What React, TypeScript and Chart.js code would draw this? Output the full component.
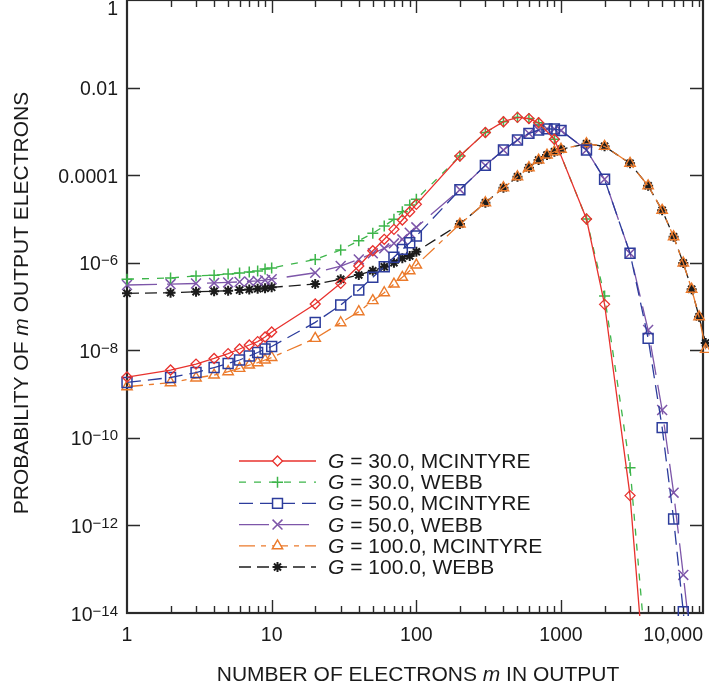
import { useEffect, useRef } from 'react';
import { Chart, registerables } from 'chart.js';

Chart.register(...registerables);

// ---- data ----
const xLow = [1, 2, 3, 4, 5, 6, 7, 8, 9, 10, 20, 30, 40, 50, 60, 70, 80, 90, 100];
const xG30 = [...xLow, 200, 300, 400, 500, 600, 700, 900, 1500, 2000, 3000, 4000];
const xG50 = [...xLow, 200, 300, 400, 500, 600, 700, 800, 900, 1000, 1500, 2000, 3000, 4000, 5000, 6000, 7000, 8000];
const xG100 = [...xLow, 200, 300, 400, 500, 600, 700, 800, 900, 1000, 1500, 2000, 3000, 4000, 5000, 6000, 7000, 8000, 9000, 10000];

const g30Mcintyre = [
  2.45e-9, 3.54e-9, 4.85e-9, 6.5e-9, 8.4e-9, 1.07e-8, 1.32e-8, 1.58e-8, 2.01e-8, 2.61e-8,
  1.14e-7, 3.38e-7, 8.4e-7, 1.88e-6, 3.42e-6, 5.78e-6, 9.44e-6, 1.46e-5, 2.15e-5,
  2.73e-4, 9.4e-4, 1.66e-3, 2.09e-3, 1.96e-3, 1.57e-3, 6.6e-4, 9.96e-6, 1.12e-7, 4.8e-12, 3.6e-17,
];
const g30Webb = [
  4.2e-7, 4.5e-7, 5.0e-7, 5.2e-7, 5.5e-7, 5.8e-7, 6.1e-7, 6.5e-7, 7.2e-7, 7.6e-7,
  1.19e-6, 1.95e-6, 3.18e-6, 4.69e-6, 6.89e-6, 9.8e-6, 1.46e-5, 2.07e-5, 2.8e-5,
  2.73e-4, 9.4e-4, 1.66e-3, 2.09e-3, 1.96e-3, 1.57e-3, 6.6e-4, 9.96e-6, 1.73e-7, 2.08e-11, 3.1e-16,
];
const g50Mcintyre = [
  1.84e-9, 2.39e-9, 3.1e-9, 4.04e-9, 4.99e-9, 6.0e-9, 7.4e-9, 8.9e-9, 1.07e-8, 1.22e-8,
  4.34e-8, 1.08e-7, 2.38e-7, 4.64e-7, 8.1e-7, 1.33e-6, 2.02e-6, 2.86e-6, 4.06e-6,
  4.65e-5, 1.67e-4, 3.74e-4, 6.34e-4, 9.0e-4, 1.07e-3, 1.14e-3, 1.13e-3, 1.05e-3, 3.74e-4, 8.05e-5,
  1.64e-6, 1.87e-8, 1.71e-10, 1.4e-12, 1.07e-14, 1.3e-16,
];
const g50Webb = [
  3.1e-7, 3.25e-7, 3.35e-7, 3.45e-7, 3.55e-7, 3.65e-7, 3.75e-7, 3.85e-7, 4.0e-7, 4.2e-7,
  5.9e-7, 8.4e-7, 1.19e-6, 1.64e-6, 2.13e-6, 2.77e-6, 3.42e-6, 4.84e-6, 6.43e-6,
  4.65e-5, 1.67e-4, 3.74e-4, 6.34e-4, 9.0e-4, 1.07e-3, 1.14e-3, 1.13e-3, 1.05e-3, 3.74e-4, 8.05e-5,
  1.64e-6, 2.9e-8, 4.33e-10, 5.6e-12, 7.4e-14, 1.4e-15,
];
const g100Mcintyre = [
  1.47e-9, 1.82e-9, 2.33e-9, 2.72e-9, 3.24e-9, 3.87e-9, 4.6e-9, 5.2e-9, 6.0e-9, 6.84e-9,
  1.87e-8, 4.26e-8, 7.6e-8, 1.36e-7, 2.06e-7, 3.26e-7, 4.64e-7, 6.56e-7, 8.85e-7,
  7.63e-6, 2.34e-5, 5.15e-5, 9.18e-5, 1.48e-4, 2.21e-4, 2.88e-4, 3.42e-4, 3.9e-4, 5.21e-4, 4.55e-4,
  1.86e-4, 5.7e-5, 1.57e-5, 3.92e-6, 9.84e-7, 2.48e-7, 5.83e-8, 1.05e-8,
];
const g100Webb = [
  2.0e-7, 2.07e-7, 2.17e-7, 2.23e-7, 2.29e-7, 2.37e-7, 2.46e-7, 2.55e-7, 2.6e-7, 2.74e-7,
  3.26e-7, 4.17e-7, 5.24e-7, 6.56e-7, 8.1e-7, 1.0e-6, 1.26e-6, 1.42e-6, 1.78e-6,
  7.63e-6, 2.34e-5, 5.15e-5, 9.18e-5, 1.48e-4, 2.21e-4, 2.88e-4, 3.42e-4, 3.9e-4, 5.21e-4, 4.55e-4,
  1.86e-4, 5.7e-5, 1.57e-5, 3.92e-6, 9.84e-7, 2.48e-7, 5.83e-8, 1.47e-8,
];

const seriesLabels = [
  '30.0, MCINTYRE',
  '30.0, WEBB',
  '50.0, MCINTYRE',
  '50.0, WEBB',
  '100.0, MCINTYRE',
  '100.0, WEBB',
];

const xMajorTicks = [1, 10, 100, 1000, 10000];
const xMinorMultiples = [2, 3, 4, 5, 6, 7, 8, 9];
const xTickLabels = ['1', '10', '100', '1000', '10,000'];
const yTicks = [1, 1e-2, 1e-4, 1e-6, 1e-8, 1e-10, 1e-12, 1e-14];
const yTickBase = ['1', '0.01', '0.0001', '10', '10', '10', '10', '10'];
const yTickExp = ['', '', '', '\u22126', '\u22128', '\u221210', '\u221212', '\u221214'];

const FONT = '"Liberation Sans", Arial, Helvetica, sans-serif';

type Part = { t: string; italic?: boolean };

function drawRich(ctx: CanvasRenderingContext2D, parts: Part[], x: number, y: number, align: 'left' | 'center' | 'right', size: number) {
  const fonts = parts.map((p) => `${p.italic ? 'italic ' : ''}${size}px ${FONT}`);
  const widths = parts.map((p, i) => {
    ctx.font = fonts[i];
    return ctx.measureText(p.t).width;
  });
  const total = widths.reduce((a, b) => a + b, 0);
  let cx = align === 'left' ? x : align === 'center' ? x - total / 2 : x - total;
  ctx.textAlign = 'left';
  ctx.textBaseline = 'alphabetic';
  parts.forEach((p, i) => {
    ctx.font = fonts[i];
    ctx.fillText(p.t, cx, y);
    cx += widths[i];
  });
}

function drawMarker(ctx: CanvasRenderingContext2D, style: string, x: number, y: number, r: number) {
  const o = r * Math.SQRT1_2;
  ctx.beginPath();
  switch (style) {
    case 'rectRot':
      ctx.moveTo(x - r, y);
      ctx.lineTo(x, y - r);
      ctx.lineTo(x + r, y);
      ctx.lineTo(x, y + r);
      ctx.closePath();
      ctx.fill();
      break;
    case 'rect':
      ctx.rect(x - o, y - o, 2 * o, 2 * o);
      ctx.fill();
      break;
    case 'triangle':
      ctx.moveTo(x, y - r);
      ctx.lineTo(x + 0.866 * r, y + 0.5 * r);
      ctx.lineTo(x - 0.866 * r, y + 0.5 * r);
      ctx.closePath();
      ctx.fill();
      break;
    case 'cross':
      ctx.moveTo(x - r, y);
      ctx.lineTo(x + r, y);
      ctx.moveTo(x, y - r);
      ctx.lineTo(x, y + r);
      break;
    case 'crossRot':
      ctx.moveTo(x - o, y - o);
      ctx.lineTo(x + o, y + o);
      ctx.moveTo(x + o, y - o);
      ctx.lineTo(x - o, y + o);
      break;
    case 'star':
      ctx.moveTo(x - r, y);
      ctx.lineTo(x + r, y);
      ctx.moveTo(x, y - r);
      ctx.lineTo(x, y + r);
      ctx.moveTo(x - o, y - o);
      ctx.lineTo(x + o, y + o);
      ctx.moveTo(x + o, y - o);
      ctx.lineTo(x - o, y + o);
      break;
  }
  ctx.stroke();
}

const framePlugin = {
  id: 'framePlugin',
  beforeDatasetsDraw(chart: any) {
    const { ctx, chartArea: a, scales } = chart;
    const xs = scales.x;
    const ys = scales.y;
    ctx.save();
    ctx.strokeStyle = '#2a2a2a';
    ctx.lineWidth = 1.4;
    ctx.beginPath();
    xMajorTicks.forEach((d) => {
      [1, ...xMinorMultiples].forEach((k) => {
        const v = d * k;
        if (v <= xs.min || v >= xs.max) return;
        const px = Math.round(xs.getPixelForValue(v)) + 0.5;
        const len = k === 1 ? 13 : 7;
        ctx.moveTo(px, a.bottom);
        ctx.lineTo(px, a.bottom - len);
        ctx.moveTo(px, a.top);
        ctx.lineTo(px, a.top + len);
      });
    });
    yTicks.forEach((v) => {
      if (v <= ys.min || v >= ys.max) return;
      const py = Math.round(ys.getPixelForValue(v)) + 0.5;
      ctx.moveTo(a.left, py);
      ctx.lineTo(a.left + 13, py);
      ctx.moveTo(a.right, py);
      ctx.lineTo(a.right - 13, py);
    });
    ctx.stroke();
    ctx.lineWidth = 2.2;
    ctx.strokeRect(a.left, a.top, a.right - a.left, a.bottom - a.top);
    ctx.restore();
  },
  afterDraw(chart: any) {
    const { ctx, chartArea: a, scales } = chart;
    const xs = scales.x;
    const ys = scales.y;
    ctx.save();
    ctx.fillStyle = '#1a1a1a';
    // y tick labels
    yTicks.forEach((v, i) => {
      const py = ys.getPixelForValue(v);
      const base = Math.max(py + 7.5, 14.5);
      const right = a.left - 9;
      if (yTickExp[i]) {
        ctx.font = `15px ${FONT}`;
        const ew = ctx.measureText(yTickExp[i]).width;
        ctx.textAlign = 'right';
        ctx.textBaseline = 'alphabetic';
        ctx.fillText(yTickExp[i], right, base - 5);
        ctx.font = `19.5px ${FONT}`;
        ctx.fillText(yTickBase[i], right - ew, base);
      } else {
        ctx.font = `19.5px ${FONT}`;
        ctx.textAlign = 'right';
        ctx.textBaseline = 'alphabetic';
        ctx.fillText(yTickBase[i], right, base);
      }
    });
    // x tick labels
    ctx.font = `19.5px ${FONT}`;
    ctx.textBaseline = 'alphabetic';
    xMajorTicks.forEach((v, i) => {
      if (v > xs.max) {
        ctx.textAlign = 'right';
        ctx.fillText(xTickLabels[i], a.right, 641);
      } else {
        ctx.textAlign = 'center';
        ctx.fillText(xTickLabels[i], xs.getPixelForValue(v), 641);
      }
    });
    // axis titles
    drawRich(ctx, [{ t: 'NUMBER OF ELECTRONS ' }, { t: 'm', italic: true }, { t: ' IN OUTPUT' }], 418, 681, 'center', 21);
    ctx.save();
    ctx.translate(28, 303);
    ctx.rotate(-Math.PI / 2);
    drawRich(ctx, [{ t: 'PROBABILITY OF ' }, { t: 'm', italic: true }, { t: ' OUTPUT ELECTRONS' }], 0, 0, 'center', 21);
    ctx.restore();
    // legend
    chart.data.datasets.forEach((ds: any, i: number) => {
      const ly = 461 + i * 21.2;
      ctx.save();
      ctx.strokeStyle = ds.borderColor;
      ctx.lineWidth = ds.borderWidth;
      ctx.setLineDash(ds.borderDash || []);
      ctx.beginPath();
      ctx.moveTo(239, ly);
      ctx.lineTo(316, ly);
      ctx.stroke();
      ctx.setLineDash([]);
      ctx.fillStyle = '#ffffff';
      ctx.lineWidth = ds.pointBorderWidth;
      drawMarker(ctx, ds.pointStyle, 277.5, ly, ds.pointRadius);
      ctx.restore();
      ctx.fillStyle = '#1a1a1a';
      drawRich(ctx, [{ t: 'G', italic: true }, { t: ' = ' + seriesLabels[i] }], 328, ly + 7, 'left', 21);
    });
    ctx.restore();
  },
};

function makeSet(label: string, xs: number[], ys: number[], color: string, dash: number[], style: string, r: number, pbw: number) {
  return {
    label,
    data: xs.map((x, i) => ({ x, y: ys[i] })),
    borderColor: color,
    backgroundColor: 'rgba(0,0,0,0)',
    borderWidth: 1.3,
    borderDash: dash,
    pointStyle: style,
    pointRadius: r,
    pointBorderWidth: pbw,
    pointBorderColor: color,
    pointBackgroundColor: 'rgba(0,0,0,0)',
    tension: 0,
    fill: false,
    clip: { left: 6, top: 6, right: 8, bottom: 3 },
  };
}

export default function App() {
  const ref = useRef<HTMLCanvasElement | null>(null);
  useEffect(() => {
    if (!ref.current) return;
    const chart = new Chart(ref.current, {
      type: 'line',
      data: {
        datasets: [
          makeSet('G = ' + seriesLabels[0], xG30, g30Mcintyre, '#e8322e', [], 'rectRot', 5, 1.3),
          makeSet('G = ' + seriesLabels[1], xG30, g30Webb, '#3db54a', [7, 8], 'cross', 5.5, 1.5),
          makeSet('G = ' + seriesLabels[2], xG50, g50Mcintyre, '#2c3c9c', [14, 7], 'rect', 7, 1.5),
          makeSet('G = ' + seriesLabels[3], xG50, g50Webb, '#7d56a9', [30, 10], 'crossRot', 7, 1.5),
          makeSet('G = ' + seriesLabels[4], xG100, g100Mcintyre, '#eb7a2b', [16, 6, 5, 6], 'triangle', 6, 1.4),
          makeSet('G = ' + seriesLabels[5], xG100, g100Webb, '#1c1c1c', [12, 6], 'star', 5, 2),
        ] as any,
      },
      options: {
        responsive: false,
        animation: false,
        devicePixelRatio: 1,
        events: [],
        layout: { autoPadding: false, padding: { left: 127, right: 6, top: 0, bottom: 74 } },
        plugins: { legend: { display: false }, tooltip: { enabled: false } },
        scales: {
          x: {
            type: 'logarithmic',
            min: 1,
            max: 9580,
            grid: { display: false, drawTicks: false, tickLength: 0 },
            border: { display: false },
            ticks: { display: false },
          },
          y: {
            type: 'logarithmic',
            min: 1e-14,
            max: 1,
            grid: { display: false, drawTicks: false, tickLength: 0 },
            border: { display: false },
            ticks: { display: false },
          },
        },
      } as any,
      plugins: [framePlugin],
    });
    return () => chart.destroy();
  }, []);
  return (
    <div style={{ position: 'absolute', left: 0, top: 0, width: 709, height: 687, background: '#fff' }}>
      <canvas ref={ref} width={709} height={687} style={{ display: 'block' }} />
    </div>
  );
}
